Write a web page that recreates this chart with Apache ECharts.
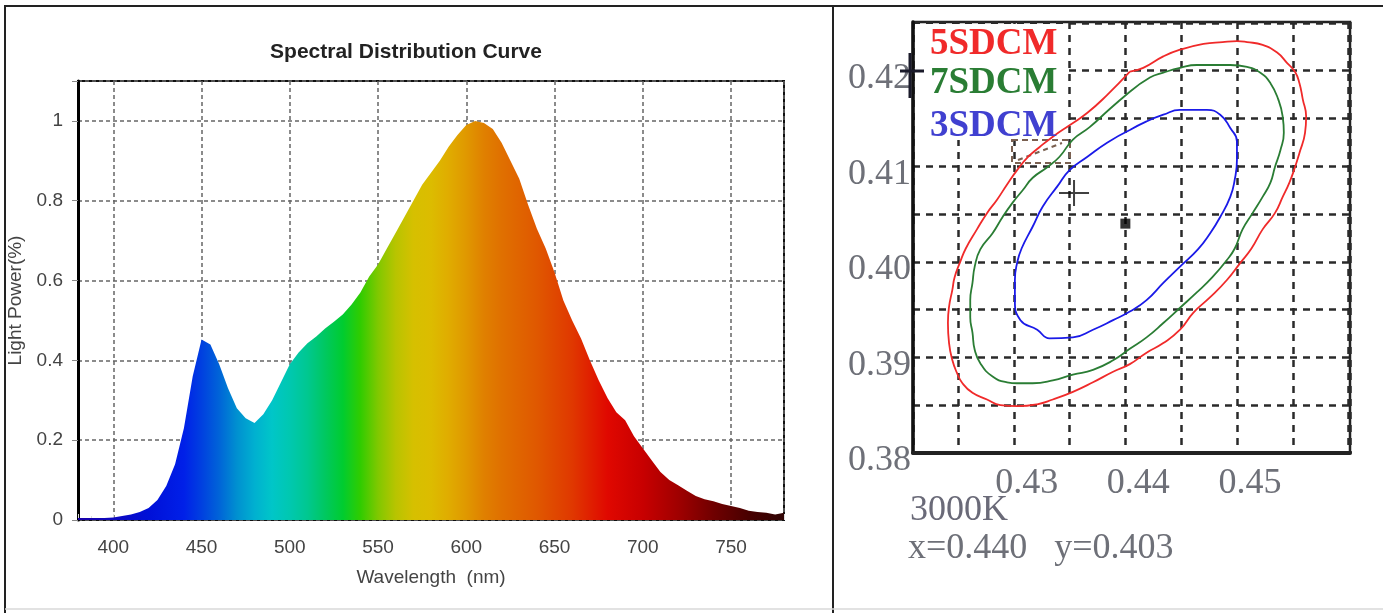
<!DOCTYPE html>
<html>
<head>
<meta charset="utf-8">
<script src="https://cdn.jsdelivr.net/npm/echarts@6/dist/echarts.min.js"></script>
<style>
html,body{margin:0;padding:0;background:#fff;overflow:hidden;}
#chart{width:1383px;height:613px;}
</style>
</head>
<body>
<div id="chart"></div>
<script>
// ---- Spectral distribution data ----
const wavelengths = [
  380,385,390,395,400,405,410,415,420,425,
  430,435,440,445,450,455,460,465,470,475,
  480,485,490,495,500,505,510,515,520,525,
  530,535,540,545,550,555,560,565,570,575,
  580,585,590,595,600,605,610,615,620,625,
  630,635,640,645,650,655,660,665,670,675,
  680,685,690,695,700,705,710,715,720,725,
  730,735,740,745,750,755,760,765,770,775,
  780
];
const lightPower = [
  0.005,0.005,0.005,0.005,0.006,0.010,0.014,0.020,0.030,0.050,
  0.085,0.140,0.230,0.360,0.452,0.440,0.390,0.330,0.280,0.255,
  0.243,0.265,0.300,0.345,0.390,0.420,0.443,0.460,0.480,0.497,
  0.515,0.540,0.570,0.610,0.640,0.680,0.720,0.760,0.800,0.840,
  0.870,0.900,0.935,0.965,0.990,1.000,0.995,0.980,0.945,0.900,
  0.855,0.790,0.730,0.680,0.620,0.550,0.500,0.455,0.400,0.350,
  0.306,0.270,0.250,0.210,0.180,0.150,0.120,0.100,0.087,0.073,
  0.060,0.052,0.047,0.040,0.035,0.030,0.023,0.020,0.018,0.014,
  0.018
];
const spectrumTickLabels = [400,450,500,550,600,650,700,750];

// ---- Chromaticity (MacAdam) ellipses ----
const ellipse5SDCM = [ // red, outer
  [0.4404,0.4199],[0.4416,0.4203],[0.4434,0.4215],[0.4449,0.4222],[0.4470,0.4228],[0.4487,0.4230],
  [0.4500,0.4231],[0.4509,0.4230],[0.4523,0.4227],[0.4536,0.4219],[0.4545,0.4208],[0.4552,0.4199],
  [0.4556,0.4187],[0.4559,0.4170],[0.4562,0.4152],[0.4561,0.4135],[0.4556,0.4114],[0.4552,0.4099],
  [0.4547,0.4083],[0.4541,0.4068],[0.4534,0.4051],[0.4523,0.4034],[0.4513,0.4014],[0.4503,0.3999],
  [0.4491,0.3981],[0.4476,0.3963],[0.4461,0.3947],[0.4449,0.3929],[0.4434,0.3915],[0.4419,0.3905],
  [0.4404,0.3893],[0.4389,0.3885],[0.4371,0.3874],[0.4353,0.3864],[0.4335,0.3856],[0.4321,0.3851],
  [0.4303,0.3849],[0.4288,0.3850],[0.4276,0.3856],[0.4263,0.3863],[0.4254,0.3873],[0.4249,0.3884],
  [0.4245,0.3897],[0.4242,0.3915],[0.4241,0.3936],[0.4242,0.3953],[0.4245,0.3971],[0.4247,0.3984],
  [0.4252,0.4000],[0.4257,0.4014],[0.4267,0.4034],[0.4276,0.4051],[0.4285,0.4065],[0.4294,0.4081],
  [0.4303,0.4096],[0.4313,0.4110],[0.4323,0.4120],[0.4335,0.4131],[0.4350,0.4143],[0.4366,0.4156],
  [0.4384,0.4175],[0.4404,0.4199]
];
const ellipse7SDCM = [ // green, middle
  [0.4404,0.4178],[0.4422,0.4193],[0.4434,0.4198],[0.4449,0.4203],[0.4464,0.4206],[0.4494,0.4206],
  [0.4509,0.4204],[0.4521,0.4198],[0.4530,0.4187],[0.4537,0.4170],[0.4541,0.4152],[0.4542,0.4135],
  [0.4539,0.4117],[0.4534,0.4099],[0.4530,0.4083],[0.4523,0.4068],[0.4514,0.4051],[0.4505,0.4034],
  [0.4498,0.4014],[0.4491,0.4002],[0.4478,0.3984],[0.4464,0.3968],[0.4449,0.3952],[0.4434,0.3936],
  [0.4419,0.3921],[0.4404,0.3909],[0.4389,0.3897],[0.4371,0.3887],[0.4353,0.3882],[0.4335,0.3876],
  [0.4317,0.3873],[0.4303,0.3873],[0.4294,0.3874],[0.4281,0.3880],[0.4270,0.3894],[0.4265,0.3908],
  [0.4263,0.3926],[0.4261,0.3942],[0.4261,0.3960],[0.4263,0.3978],[0.4265,0.3995],[0.4270,0.4013],
  [0.4281,0.4030],[0.4290,0.4047],[0.4299,0.4062],[0.4308,0.4075],[0.4317,0.4088],[0.4330,0.4099],
  [0.4341,0.4110],[0.4353,0.4128],[0.4368,0.4141],[0.4386,0.4160],[0.4404,0.4178]
];
const ellipse3SDCM = [ // blue, inner
  [0.4404,0.4138],[0.4419,0.4147],[0.4434,0.4154],[0.4449,0.4159],[0.4473,0.4159],[0.4485,0.4154],
  [0.4494,0.4140],[0.4500,0.4126],[0.4500,0.4107],[0.4498,0.4086],[0.4494,0.4068],[0.4485,0.4047],
  [0.4476,0.4030],[0.4465,0.4013],[0.4449,0.3995],[0.4434,0.3978],[0.4419,0.3960],[0.4404,0.3948],
  [0.4389,0.3939],[0.4371,0.3929],[0.4353,0.3921],[0.4332,0.3920],[0.4321,0.3929],[0.4306,0.3939],
  [0.4301,0.3960],[0.4301,0.3981],[0.4303,0.3999],[0.4307,0.4014],[0.4317,0.4037],[0.4326,0.4058],
  [0.4339,0.4079],[0.4350,0.4096],[0.4366,0.4110],[0.4384,0.4125],[0.4404,0.4138]
];
const crossPoint = [[0.4354,0.4072]];
const measuredPoint = [[0.4400,0.4040]];
const ellipseNames = ['5SDCM','7SDCM','3SDCM'];
const ellipseColors = ['#f02a2a','#2a7d34','#1a1ae8'];
const cctText = '3000K';
const xyText = 'x=0.440   y=0.403';

// ---- chart ----
const chart = echarts.init(document.getElementById('chart'));
const spectrumGradient = new echarts.graphic.LinearGradient(0, 0, 1, 0, [
  {offset:0.00,color:'#1a00a8'},{offset:0.10,color:'#0010d8'},{offset:0.15,color:'#0020e8'},
  {offset:0.175,color:'#0040e0'},{offset:0.20,color:'#0064d8'},{offset:0.225,color:'#0090d0'},
  {offset:0.25,color:'#00b0d0'},{offset:0.275,color:'#00c6c8'},{offset:0.30,color:'#00c8b0'},
  {offset:0.325,color:'#00c890'},{offset:0.35,color:'#00c860'},{offset:0.375,color:'#00cc30'},
  {offset:0.40,color:'#30cc00'},{offset:0.425,color:'#80c800'},{offset:0.45,color:'#b8c400'},
  {offset:0.475,color:'#d6c000'},{offset:0.50,color:'#dcbc00'},{offset:0.525,color:'#e0ac00'},
  {offset:0.55,color:'#e09800'},{offset:0.575,color:'#e08000'},{offset:0.60,color:'#e07000'},
  {offset:0.65,color:'#e05800'},{offset:0.70,color:'#e03800'},{offset:0.75,color:'#e00800'},
  {offset:0.80,color:'#c80000'},{offset:0.85,color:'#a00000'},{offset:0.90,color:'#700000'},
  {offset:0.95,color:'#480000'},{offset:1.00,color:'#300404'}
]);

const sans = "'Liberation Sans', Arial, sans-serif";
const serif = "'Liberation Serif', 'Times New Roman', serif";
const isHundredth = v => Math.abs(v * 100 - Math.round(v * 100)) < 1e-6;

const option = {
  animation: false,
  backgroundColor: '#fff',
  grid: [
    {left: 78, top: 81, width: 706, height: 439, show: true, borderColor: '#111', borderWidth: 2,
      backgroundColor: '#fff', outerBoundsMode: 'none', containLabel: false},
    {left: 913, top: 22, width: 437, height: 431, show: true, borderColor: '#222', borderWidth: 2.5,
      backgroundColor: '#fff', outerBoundsMode: 'none', containLabel: false}
  ],
  xAxis: [
    {
      gridIndex: 0, type: 'value', min: 380, max: 780, splitNumber: 8,
      name: 'Wavelength  (nm)', nameLocation: 'middle', nameGap: 48,
      nameTextStyle: {fontFamily: sans, fontSize: 19, color: '#444'},
      axisLine: {show: false},
      axisTick: {show: true, inside: true, length: 6, lineStyle: {color: '#ddd'}},
      minorTick: {show: true, splitNumber: 4, length: 4, lineStyle: {color: '#ddd'}},
      axisLabel: {margin: 18, fontFamily: sans, fontSize: 19, color: '#444',
        formatter: v => spectrumTickLabels.indexOf(Math.round(v)) >= 0 && Math.abs(v - Math.round(v)) < 1e-6 ? String(Math.round(v)) : ''},
      splitLine: {show: true, lineStyle: {color: '#666', width: 1.5, type: [4, 3]}}
    },
    {
      gridIndex: 1, type: 'value', min: 0.42097, max: 0.46013, splitNumber: 8,
      axisLine: {show: true, onZero: false, lineStyle: {color: '#222', width: 4}},
      axisTick: {show: false},
      axisLabel: {margin: 13, padding: [0, 0, 0, 26], fontFamily: serif, fontSize: 36, color: '#6e7078',
        formatter: v => (isHundredth(v) && v < 0.4595) ? v.toFixed(2) : ''},
      splitLine: {show: true, lineStyle: {color: '#2a2a2a', width: 2.5, type: [7, 6]}}
    }
  ],
  yAxis: [
    {
      gridIndex: 0, type: 'value', min: 0, max: 1.1, splitNumber: 5,
      name: 'Light Power(%)', nameLocation: 'middle', nameGap: 50, nameRotate: 90,
      nameTextStyle: {fontFamily: sans, fontSize: 19, color: '#444'},
      axisLine: {show: true, lineStyle: {color: '#000', width: 3}},
      axisTick: {show: true, length: 6, lineStyle: {color: '#888'}},
      axisLabel: {margin: 15, fontFamily: sans, fontSize: 19, color: '#444',
        formatter: v => v > 1.05 ? '' : (Math.abs(v) < 1e-9 ? '0' : (Math.abs(v - 1) < 1e-9 ? '1' : v.toFixed(1)))},
      splitLine: {show: true, lineStyle: {color: '#666', width: 1.5, type: [4, 3]}}
    },
    {
      gridIndex: 1, type: 'value', min: 0.38, max: 0.4251, splitNumber: 9,
      axisLine: {show: true, onZero: false, lineStyle: {color: '#111', width: 3.5}},
      axisTick: {show: false},
      axisLabel: {margin: 2, verticalAlign: 'top', lineHeight: 16, fontFamily: serif, fontSize: 36, color: '#6e7078',
        formatter: v => isHundredth(v) ? v.toFixed(2) : ''},
      splitLine: {show: true, lineStyle: {color: '#2a2a2a', width: 2.5, type: [7, 6]}}
    }
  ],
  series: [
    {
      name: 'Spectrum', type: 'line', xAxisIndex: 0, yAxisIndex: 0,
      data: wavelengths.map((w, i) => [w, lightPower[i]]),
      showSymbol: false, smooth: false,
      lineStyle: {width: 0},
      areaStyle: {color: spectrumGradient, opacity: 1}
    },
    {
      name: ellipseNames[0], type: 'line', xAxisIndex: 1, yAxisIndex: 1, data: ellipse5SDCM,
      showSymbol: false, smooth: true, lineStyle: {color: ellipseColors[0], width: 1.8}
    },
    {
      name: ellipseNames[1], type: 'line', xAxisIndex: 1, yAxisIndex: 1, data: ellipse7SDCM,
      showSymbol: false, smooth: true, lineStyle: {color: ellipseColors[1], width: 1.8}
    },
    {
      name: ellipseNames[2], type: 'line', xAxisIndex: 1, yAxisIndex: 1, data: ellipse3SDCM,
      showSymbol: false, smooth: true, lineStyle: {color: ellipseColors[2], width: 1.8}
    },
    {
      name: 'cross', type: 'scatter', xAxisIndex: 1, yAxisIndex: 1, data: crossPoint,
      symbol: 'path://M0,12 L30,12 L30,14 L0,14 Z M14,0 L16,0 L16,26 L14,26 Z',
      symbolSize: [30, 26], itemStyle: {color: '#111'}, z: 5
    },
    {
      name: 'point', type: 'scatter', xAxisIndex: 1, yAxisIndex: 1, data: measuredPoint,
      symbol: 'rect', symbolSize: 10, itemStyle: {color: '#000'}, z: 5
    }
  ],
  graphic: [
    // outer frame
    {type: 'line', shape: {x1: 4, y1: 6, x2: 1383, y2: 6}, style: {stroke: '#222', lineWidth: 2}, z: 10},
    {type: 'line', shape: {x1: 5, y1: 6, x2: 5, y2: 613}, style: {stroke: '#222', lineWidth: 2}, z: 10},
    {type: 'line', shape: {x1: 833, y1: 6, x2: 833, y2: 613}, style: {stroke: '#222', lineWidth: 2}, z: 10},
    {type: 'line', shape: {x1: 5, y1: 609, x2: 1383, y2: 609}, style: {stroke: '#d8d8d8', lineWidth: 1.5}, z: 10},
    // left title
    {type: 'text', x: 406, y: 52, z: 10,
      style: {text: 'Spectral Distribution Curve', fill: '#222', font: "bold 21px 'Liberation Sans', Arial, sans-serif",
        textAlign: 'center', textVerticalAlign: 'middle'}},
    // legend background (covers grid lines)
    {type: 'rect', shape: {x: 915, y: 24, width: 152, height: 116}, style: {fill: '#fff'}, z: 1},
    {type: 'rect', shape: {x: 1012, y: 140, width: 58, height: 23},
      style: {fill: 'none', stroke: '#7a6050', lineWidth: 2, lineDash: [6, 4]}, z: 3},
    {type: 'line', shape: {x1: 1018, y1: 160, x2: 1062, y2: 143},
      style: {stroke: '#7a6050', lineWidth: 2, lineDash: [5, 4]}, z: 3},
    {type: 'text', x: 930, y: 44, z: 4,
      style: {text: ellipseNames[0], fill: ellipseColors[0], font: "bold 37px 'Liberation Serif', serif", textVerticalAlign: 'middle'}},
    {type: 'text', x: 930, y: 83, z: 4,
      style: {text: ellipseNames[1], fill: ellipseColors[1], font: "bold 37px 'Liberation Serif', serif", textVerticalAlign: 'middle'}},
    {type: 'text', x: 930, y: 126, z: 4,
      style: {text: ellipseNames[2], fill: '#4040d0', font: "bold 37px 'Liberation Serif', serif", textVerticalAlign: 'middle'}},
    // black bracket near 0.42 label
    {type: 'line', shape: {x1: 910, y1: 53, x2: 910, y2: 98}, style: {stroke: '#1a1a2a', lineWidth: 3}, z: 6},
    {type: 'line', shape: {x1: 900, y1: 71, x2: 924, y2: 71}, style: {stroke: '#1a1a2a', lineWidth: 3}, z: 6},
    // bottom texts
    {type: 'text', x: 910, y: 511, z: 10,
      style: {text: cctText, fill: '#6a6a78', font: "36px 'Liberation Serif', serif", textVerticalAlign: 'middle'}},
    {type: 'text', x: 908, y: 549, z: 10,
      style: {text: xyText, fill: '#6e7078', font: "36px 'Liberation Serif', serif", textVerticalAlign: 'middle'}}
  ]
};
chart.setOption(option);
</script>
</body>
</html>
